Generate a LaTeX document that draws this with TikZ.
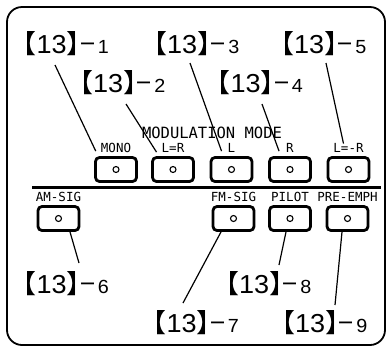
\documentclass[tikz,border=0pt]{standalone}
\usepackage{fontspec}
\setmainfont{Liberation Sans}
\newfontfamily\cjk[RawFeature=+halt]{Noto Sans CJK SC}
\newfontfamily\panelfont{DejaVu Sans Mono}
\usetikzlibrary{positioning}

\tikzset{
  button/.style={draw, line width=2.8pt, rounded corners=4pt, minimum width=41pt, minimum height=24pt, inner sep=0pt},
  keylabel/.style={font=\panelfont\fontsize{12.5}{12.5}\selectfont, inner sep=0pt},
  callout/.style={font=\fontsize{26}{26}\selectfont, inner sep=0pt, anchor=base},
  leader/.style={line width=1.2pt},
}
\newcommand{\partno}[1]{\scalebox{1.04}[1]{{\cjk 【}13{\cjk 】−}\kern0.1em{\fontsize{19}{19}\selectfont #1}}}

\begin{document}
\begin{tikzpicture}[x=1pt, y=-1pt]
    \useasboundingbox (0,0) rectangle (388,349);
    % panel frame
    \draw[line width=1.8pt, rounded corners=15pt] (7,7) rectangle (385,345);

    % upper row: modulation mode keys
    \node[button] (bmono) at (116,169.5) {};
    \node[button] (blr)   at (173,169.5) {};
    \node[button] (bl)    at (231.5,169.5) {};
    \node[button] (br)    at (290,169.5) {};
    \node[button] (blmr)  at (348.5,169.5) {};

    % lower row
    \node[button] (bam)    at (58.5,218.5) {};
    \node[button] (bfm)    at (233.5,218.5) {};
    \node[button] (bpilot) at (290,218.5) {};
    \node[button] (bpre)   at (347.5,218.5) {};

    \foreach \b in {bmono, blr, bl, br, blmr, bam, bfm, bpilot, bpre}
        \draw[line width=1.1pt] (\b) circle (3pt);

    % key labels
    \node[keylabel, above=3pt of bmono] (tmono) {MONO};
    \node[keylabel, above=3pt of blr]   (tlr)   {L=R};
    \node[keylabel, above=3pt of bl]    (tl)    {L};
    \node[keylabel, above=3pt of br]    (tr)    {R};
    \node[keylabel, above=3pt of blmr]  (tlmr)  {L=-R};
    \node[keylabel, above=3pt of bam]    (tam)    {AM-SIG};
    \node[keylabel, above=3pt of bfm]    (tfm)    {FM-SIG};
    \node[keylabel, above=3pt of bpilot] (tpilot) {PILOT};
    \node[keylabel, above=3pt of bpre]   (tpre)   {PRE-EMPH};
    \node[font=\panelfont\fontsize{15.5}{15.5}\selectfont, inner sep=0pt] (mode) at (212,133) {MODULATION MODE};

    % divider
    \draw[line width=3pt] (32,187) -- (381,187);

    % part numbers
    \node[callout] (c1) at (66,53)    {\partno{1}};
    \node[callout] (c2) at (122.5,92) {\partno{2}};
    \node[callout] (c3) at (196.5,53) {\partno{3}};
    \node[callout] (c4) at (260,92)   {\partno{4}};
    \node[callout] (c5) at (323.5,53) {\partno{5}};
    \node[callout] (c6) at (66,293)   {\partno{6}};
    \node[callout] (c7) at (196,332)  {\partno{7}};
    \node[callout] (c8) at (268.5,293) {\partno{8}};
    \node[callout] (c9) at (324.5,332) {\partno{9}};

    % leaders
    \draw[leader] ([xshift=-11pt,yshift=-12pt]c1.base) -- ([xshift=-5pt,yshift=2pt]tmono.south west);
    \draw[leader] ([xshift=3.5pt,yshift=-12pt]c2.base) -- ([xshift=-5pt,yshift=1pt]tlr.south west);
    \draw[leader] ([xshift=-6.5pt,yshift=-10pt]c3.base) -- ([xshift=-6pt,yshift=2pt]tl.south west);
    \draw[leader] ([xshift=2pt,yshift=-12pt]c4.base) -- ([xshift=-7pt,yshift=2pt]tr.south west);
    \draw[leader] ([xshift=2.5pt,yshift=-10pt]c5.base) -- ([xshift=-5pt]tlmr.north);
    \draw[leader] ([xshift=11.5pt]bam.south) -- ([xshift=13pt,yshift=30pt]c6.base);
    \draw[leader] ([xshift=-12.5pt]bfm.south) -- ([xshift=-13pt,yshift=29pt]c7.base);
    \draw[leader] ([xshift=-4pt]bpilot.south) -- ([xshift=10.5pt,yshift=28pt]c8.base);
    \draw[leader] ([xshift=-5.5pt]bpre.south) -- ([xshift=10.5pt,yshift=27pt]c9.base);
\end{tikzpicture}
\end{document}
